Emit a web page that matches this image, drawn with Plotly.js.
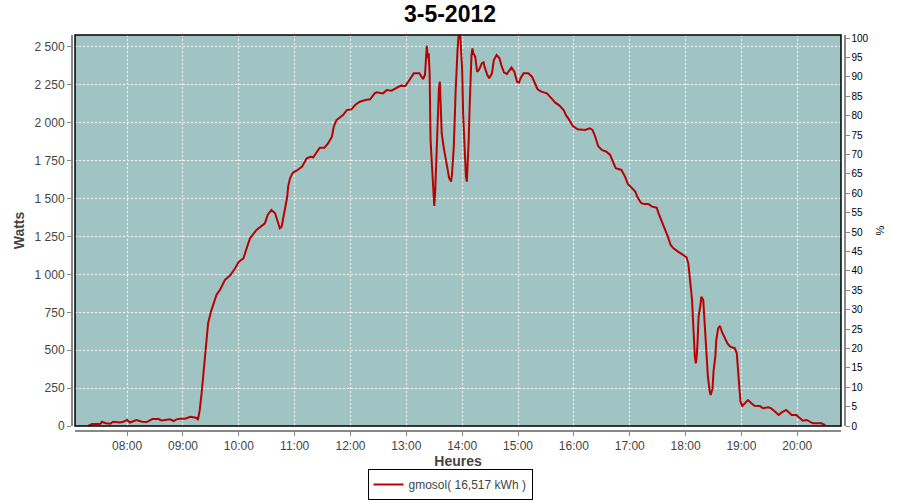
<!DOCTYPE html>
<html>
<head>
<meta charset="utf-8">
<script src="https://cdn.plot.ly/plotly-3.0.1.min.js"></script>
<style>html,body{margin:0;padding:0;background:#fff;}#chart{width:900px;height:500px;}</style>
</head>
<body>
<div id="chart"></div>
<script>
// Data (3-5-2012), time of day and power in watts
var day = "2012-05-03";
var seriesName = "gmosol( 16,517 kWh )";
var times = [
  "07:18","07:22","07:31","07:33","07:37","07:42","07:45","07:52","07:56",
  "08:00","08:03","08:10","08:16","08:21","08:27","08:34","08:37","08:41","08:46","08:50","08:53","08:57",
  "09:02","09:08","09:11","09:15","09:16","09:18","09:20","09:22","09:24","09:26","09:27","09:30","09:33","09:36","09:40","09:45","09:51","09:56",
  "10:00","10:05","10:09","10:12","10:19","10:25","10:28","10:31","10:35","10:39","10:42","10:44","10:46","10:49","10:52","10:53","10:55","10:58",
  "11:02","11:08","11:13","11:17","11:20","11:24","11:27","11:32","11:36","11:40","11:42","11:45","11:52","11:56",
  "12:01","12:05","12:10","12:16","12:21","12:26","12:28","12:35","12:39","12:44","12:50","12:54","12:59",
  "13:02","13:06","13:08","13:14","13:17","13:18","13:20","13:21","13:22","13:23","13:24","13:25","13:26","13:28","13:29","13:30","13:31","13:32","13:33","13:35","13:36","13:37","13:38","13:40","13:42","13:44","13:46","13:48","13:49","13:51","13:52","13:53","13:55","13:56","13:58","13:59",
  "14:00","14:01","14:03","14:04","14:05","14:06","14:07","14:08","14:09","14:10","14:11","14:12","14:14","14:15","14:16","14:18","14:21","14:23","14:24","14:27","14:29","14:32","14:34","14:37","14:40","14:42","14:45","14:48","14:51","14:53","14:56","14:59",
  "15:01","15:03","15:06","15:11","15:15","15:18","15:21","15:25","15:31","15:36","15:40","15:44","15:49","15:52","15:54","15:59",
  "16:04","16:12","16:17","16:20","16:23","16:26","16:30","16:35","16:39","16:42","16:45","16:51","16:55","16:58",
  "17:02","17:06","17:08","17:12","17:15","17:20","17:24","17:29","17:31","17:34","17:38","17:41","17:44","17:47","17:52","17:57",
  "18:01","18:03","18:05","18:07","18:08","18:09","18:10","18:11","18:12","18:13","18:14","18:16","18:17","18:19","18:20","18:21","18:23","18:24","18:26","18:27","18:29","18:30","18:32","18:33","18:35","18:37","18:39","18:42","18:45","18:48","18:53","18:55","18:56","18:57","18:58","18:59",
  "19:01","19:04","19:07","19:11","19:14","19:20","19:23","19:29","19:32","19:36","19:40","19:43","19:48","19:50","19:54","19:59",
  "20:03","20:06","20:10","20:14","20:17","20:26","20:30"
];
var watts = [
  0,13,13,28,18,15,28,23,28,
  40,23,40,28,26,46,46,36,40,44,33,44,48,
  48,61,59,53,40,105,216,340,480,600,677,754,805,864,900,963,996,1040,
  1084,1106,1183,1238,1293,1319,1337,1392,1425,1403,1348,1304,1315,1403,1512,1579,1634,1671,
  1684,1711,1766,1776,1772,1809,1836,1836,1865,1908,1974,2018,2051,2084,
  2089,2117,2139,2150,2155,2194,2201,2194,2216,2212,2232,2245,2243,
  2271,2315,2326,2326,2293,2289,2315,2392,2507,2425,2458,2326,1887,1667,1513,1451,1546,1733,1997,2228,2271,2117,1931,1843,1766,1689,1634,1612,1656,1843,2084,2216,2480,2568,2573,2458,
  2348,2063,1776,1645,1612,1733,1887,2107,2348,2447,2491,2458,2436,2370,2337,2348,2392,2399,2370,2315,2293,2326,2414,2447,2425,2381,2331,2322,2344,2364,2337,2271,
  2265,2298,2326,2326,2304,2260,2221,2205,2194,2161,2133,2117,2084,2045,2029,1979,
  1957,1953,1964,1953,1908,1847,1821,1809,1788,1743,1700,1689,1645,1596,
  1572,1546,1513,1473,1464,1464,1447,1440,1403,1359,1304,1249,1194,1172,1150,1128,
  1113,1073,963,831,699,567,457,413,457,567,721,798,853,831,743,611,457,325,226,204,248,358,457,567,644,660,622,578,545,523,512,480,391,303,216,160,
  132,149,171,149,134,132,117,123,117,95,73,88,106,95,73,73,
  51,35,40,28,18,18,5
];
var wattTicks = [0,250,500,750,1000,1250,1500,1750,2000,2250,2500];
var pctTicks = [0,5,10,15,20,25,30,35,40,45,50,55,60,65,70,75,80,85,90,95,100];

var xs = times.map(function(t){ return day + " " + t; });

var traces = [
  {
    x: xs, y: watts, type: "scatter", mode: "lines", name: seriesName,
    line: {color: "#bb0000", width: 2}, hoverinfo: "x+y"
  },
  {
    x: [xs[0]], y: [null], type: "scatter", mode: "lines", yaxis: "y2",
    showlegend: false, hoverinfo: "skip"
  }
];

var fam = "Liberation Sans, Arial, sans-serif";
var tickFont = {family: fam, size: 12, color: "#444"};
var gridStyle = {showgrid: true, gridcolor: "#ffffff", gridwidth: 1, griddash: "2px,2px"};

var layout = {
  width: 900, height: 500,
  margin: {l: 71, r: 56, t: 35, b: 70, pad: 0},
  paper_bgcolor: "#ffffff",
  plot_bgcolor: "#9fc4c3",
  separators: ", ",
  font: {family: fam, color: "#444"},
  title: {
    text: "<b>3-5-2012</b>",
    font: {family: fam, size: 23, color: "#000"},
    x: 0.5, xref: "container", xanchor: "center",
    y: 0.972, yref: "container", yanchor: "middle",
    automargin: false
  },
  showlegend: true,
  legend: {
    orientation: "h", x: 0.5, xref: "container", xanchor: "center",
    y: 0, yref: "container", yanchor: "bottom",
    bordercolor: "#000", borderwidth: 1, bgcolor: "#fff",
    font: {family: fam, size: 12, color: "#444"},
    itemwidth: 30
  },
  xaxis: Object.assign({
    type: "date",
    domain: [0.0052, 0.9961],
    anchor: "free", position: 0,
    range: [day + " 07:04", day + " 20:47"],
    tick0: day + " 08:00", dtick: 3600000,
    tickformat: "%H:%M",
    ticks: "outside", ticklen: 4, tickcolor: "#888",
    showline: true, linecolor: "#888", linewidth: 1.5,
    tickfont: tickFont,
    zeroline: false, automargin: false,
    title: {text: "<b>Heures</b>", font: {family: fam, size: 14, color: "#444"}, standoff: 4}
  }, gridStyle),
  yaxis: Object.assign({
    domain: [0.0101, 1],
    anchor: "free", position: 0,
    range: [0, 2579],
    tickmode: "array", tickvals: wattTicks,
    tickformat: ",d",
    ticks: "outside", ticklen: 4, tickcolor: "#888",
    showline: true, linecolor: "#888", linewidth: 1.5,
    tickfont: tickFont,
    zeroline: false, automargin: false,
    title: {text: "<b>Watts</b>", font: {family: fam, size: 14, color: "#444"}, standoff: 5}
  }, gridStyle),
  yaxis2: {
    overlaying: "y", side: "right",
    anchor: "free", position: 1,
    range: [0, 100.8],
    tickmode: "array", tickvals: pctTicks,
    ticks: "outside", ticklen: 4, tickcolor: "#888",
    showline: true, linecolor: "#888", linewidth: 1.5,
    showgrid: false, zeroline: false, automargin: false,
    tickfont: {family: fam, size: 10, color: "#000"},
    title: {text: "%", font: {family: fam, size: 11, color: "#000"}, standoff: 8}
  },
  shapes: [
    {type: "rect", xref: "x domain", yref: "y domain", x0: 0, x1: 1, y0: 0, y1: 1,
     line: {color: "#000", width: 1.5}, fillcolor: "rgba(0,0,0,0)", layer: "above"}
  ]
};

Plotly.newPlot("chart", traces, layout, {displayModeBar: false, staticPlot: true});
</script>
</body>
</html>
